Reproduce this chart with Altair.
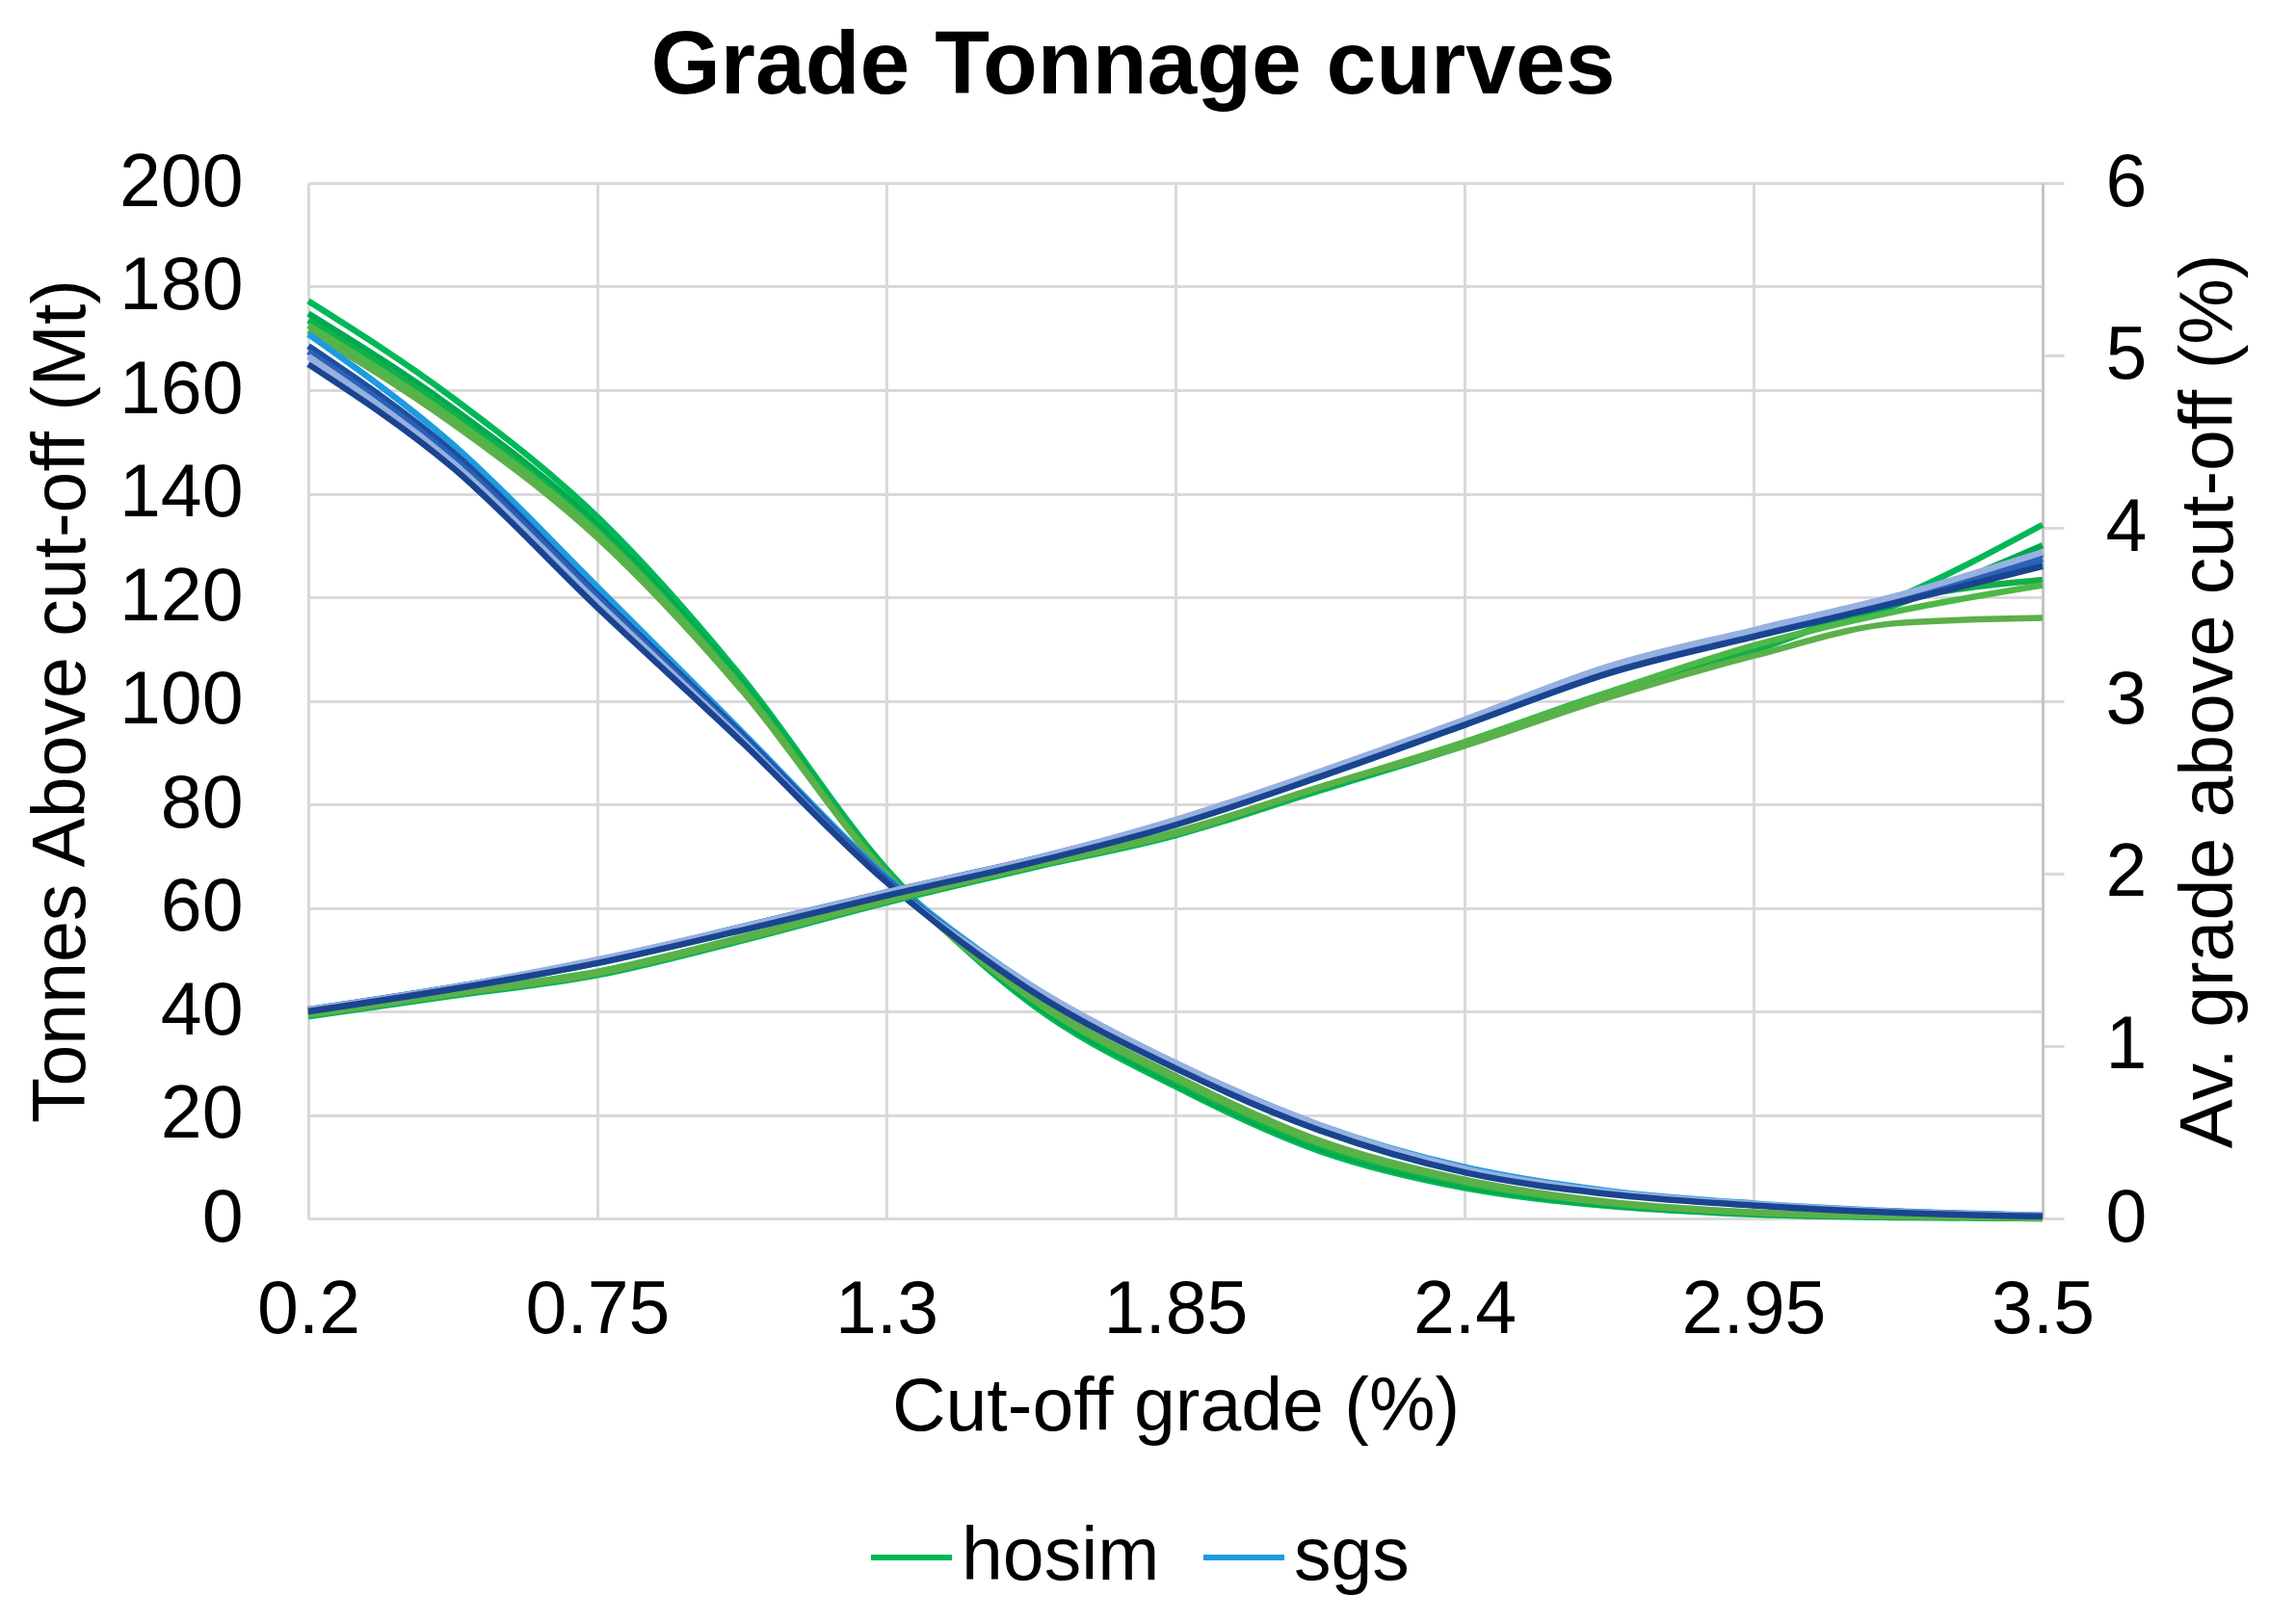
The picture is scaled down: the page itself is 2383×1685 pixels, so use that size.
import altair as alt
import pandas as pd

FONT = "Liberation Sans"

cutoff = [0.2, 0.475, 0.75, 1.025, 1.3, 1.575, 1.85, 2.125, 2.4, 2.675, 2.95, 3.225, 3.5]
x_ticks = [0.2, 0.75, 1.3, 1.85, 2.4, 2.95, 3.5]
left_ticks = [0, 20, 40, 60, 80, 100, 120, 140, 160, 180, 200]
right_ticks = [0, 1, 2, 3, 4, 5, 6]

series_names = ["hosim", "hosim 2", "hosim 3", "hosim 4", "hosim 5",
                "sgs", "sgs 2", "sgs 3", "sgs 4", "sgs 5"]
series_colors = ["#00B857", "#00A94F", "#12B04A", "#4DB848", "#5BB04A",
                 "#1E9BE0", "#1F4E9E", "#2A62B8", "#96B0E0", "#1A4490"]

# Tonnes above cut-off (Mt)
tonnes_hosim_1 = [177.2, 158.5, 135.5, 104.5, 67.5, 41.5, 25.5, 13.0, 5.9, 2.4, 0.8, 0.2, 0.0]
tonnes_hosim_2 = [174.8, 156.5, 134.0, 103.5, 67.0, 42.0, 26.0, 13.5, 6.3, 2.6, 0.9, 0.3, 0.0]
tonnes_hosim_3 = [173.5, 155.5, 133.0, 103.0, 67.0, 42.5, 26.5, 14.0, 6.7, 2.8, 1.0, 0.3, 0.1]
tonnes_hosim_4 = [172.5, 154.5, 132.5, 102.5, 66.5, 42.5, 27.0, 14.5, 7.1, 3.0, 1.1, 0.4, 0.1]
tonnes_hosim_5 = [171.5, 153.5, 131.5, 102.0, 66.5, 43.0, 27.5, 15.0, 7.5, 3.2, 1.2, 0.4, 0.1]
tonnes_sgs_1 = [170.8, 149.5, 122.0, 94.0, 66.0, 45.0, 30.0, 18.0, 9.9, 5.3, 2.9, 1.4, 0.6]
tonnes_sgs_2 = [168.5, 148.0, 120.5, 93.5, 65.5, 44.5, 29.5, 17.5, 9.3, 5.0, 2.7, 1.3, 0.5]
tonnes_sgs_3 = [167.5, 147.0, 120.0, 93.0, 65.5, 44.5, 29.5, 17.5, 9.1, 4.9, 2.6, 1.2, 0.5]
tonnes_sgs_4 = [166.5, 146.0, 119.0, 92.5, 65.0, 45.0, 30.0, 18.0, 9.6, 5.1, 2.8, 1.3, 0.6]
tonnes_sgs_5 = [165.0, 145.0, 118.0, 92.0, 65.0, 44.0, 29.0, 17.0, 8.9, 4.7, 2.5, 1.1, 0.4]

# Average grade above cut-off (%)
grade_hosim_1 = [1.17, 1.29, 1.41, 1.61, 1.83, 2.03, 2.22, 2.48, 2.74, 3.03, 3.30, 3.60, 4.02]
grade_hosim_2 = [1.18, 1.30, 1.42, 1.62, 1.84, 2.04, 2.23, 2.49, 2.75, 3.04, 3.31, 3.56, 3.90]
grade_hosim_3 = [1.18, 1.30, 1.42, 1.62, 1.84, 2.04, 2.23, 2.49, 2.76, 3.05, 3.29, 3.58, 3.70]
grade_hosim_4 = [1.19, 1.31, 1.43, 1.63, 1.85, 2.05, 2.24, 2.50, 2.76, 3.05, 3.32, 3.52, 3.67]
grade_hosim_5 = [1.18, 1.30, 1.42, 1.62, 1.84, 2.04, 2.23, 2.50, 2.74, 3.02, 3.26, 3.45, 3.48]
grade_sgs_1 = [1.21, 1.34, 1.49, 1.68, 1.88, 2.07, 2.29, 2.56, 2.86, 3.16, 3.38, 3.58, 3.80]
grade_sgs_2 = [1.21, 1.34, 1.49, 1.69, 1.89, 2.08, 2.30, 2.58, 2.88, 3.18, 3.40, 3.60, 3.85]
grade_sgs_3 = [1.20, 1.33, 1.48, 1.68, 1.88, 2.07, 2.29, 2.57, 2.87, 3.17, 3.39, 3.59, 3.82]
grade_sgs_4 = [1.21, 1.34, 1.50, 1.69, 1.89, 2.08, 2.31, 2.59, 2.89, 3.20, 3.41, 3.61, 3.86]
grade_sgs_5 = [1.20, 1.33, 1.48, 1.67, 1.87, 2.06, 2.28, 2.56, 2.86, 3.16, 3.37, 3.57, 3.78]

tonnes_all = [tonnes_hosim_1, tonnes_hosim_2, tonnes_hosim_3, tonnes_hosim_4, tonnes_hosim_5,
              tonnes_sgs_1, tonnes_sgs_2, tonnes_sgs_3, tonnes_sgs_4, tonnes_sgs_5]
grade_all = [grade_hosim_1, grade_hosim_2, grade_hosim_3, grade_hosim_4, grade_hosim_5,
             grade_sgs_1, grade_sgs_2, grade_sgs_3, grade_sgs_4, grade_sgs_5]

rows = []
for k, name in enumerate(series_names):
    for i, c in enumerate(cutoff):
        rows.append({"series": name, "cutoff": c,
                     "tonnes": tonnes_all[k][i], "grade": grade_all[k][i]})
df = pd.DataFrame(rows)

GRID = "#d9d9d9"

x_enc = alt.X(
    "cutoff:Q",
    scale=alt.Scale(domain=[0.2, 3.5], nice=False, zero=False),
    axis=alt.Axis(values=x_ticks, format=".3~g", title="Cut-off grade (%)",
                  grid=True, gridColor=GRID, gridWidth=3, labelFlush=False,
                  domainColor=GRID, domainWidth=3, ticks=False, tickSize=0,
                  labelFontSize=77, labelPadding=57, labelColor="black",
                  titleFontSize=77, titleFontWeight="normal", titleColor="black",
                  titlePadding=25, labelFont=FONT, titleFont=FONT),
)

color_enc = alt.Color(
    "series:N",
    scale=alt.Scale(domain=series_names, range=series_colors),
    legend=alt.Legend(values=["hosim", "sgs"], title=None, orient="none",
                      legendX=581, legendY=1382, direction="horizontal",
                      symbolType="stroke", symbolSize=7056, symbolStrokeWidth=6,
                      labelFontSize=77, labelFont=FONT, labelColor="black",
                      labelOffset=7, columnPadding=33, labelLimit=0),
)

tonnes_layer = alt.Chart(df).mark_line(strokeWidth=6.5, interpolate="monotone").encode(
    x=x_enc,
    y=alt.Y("tonnes:Q",
            scale=alt.Scale(domain=[0, 200], nice=False),
            axis=alt.Axis(values=left_ticks, title="Tonnes Above cut-off (Mt)",
                          grid=True, gridColor=GRID, gridWidth=3, labelFlush=False,
                          domainColor=GRID, domainWidth=3, ticks=False, tickSize=0,
                          labelFontSize=77, labelPadding=68, labelColor="black",
                          titleFontSize=77, titleFontWeight="normal", titleColor="black",
                          titlePadding=20, labelFont=FONT, titleFont=FONT)),
    color=color_enc,
)

grade_layer = alt.Chart(df).mark_line(strokeWidth=6.5, interpolate="monotone").encode(
    x=x_enc,
    y=alt.Y("grade:Q",
            scale=alt.Scale(domain=[0, 6], nice=False),
            axis=alt.Axis(orient="right", values=right_ticks,
                          title="Av. grade above cut-off (%)",
                          grid=False, domainColor="#c4c4c4", domainWidth=3, labelFlush=False,
                          ticks=True, tickSize=22, tickColor=GRID, tickWidth=3,
                          labelFontSize=77, labelPadding=43, labelColor="black",
                          titleFontSize=77, titleFontWeight="normal", titleColor="black",
                          titleAngle=270, titleBaseline="top",
                          titlePadding=28, labelFont=FONT, titleFont=FONT)),
    color=color_enc,
)

chart = (
    alt.layer(tonnes_layer, grade_layer)
    .resolve_scale(y="independent")
    .properties(
        width=1800,
        height=1075,
        title=alt.TitleParams("Grade Tonnage curves", fontSize=93, font=FONT,
                              fontWeight="bold", color="black", anchor="middle",
                              baseline="alphabetic", offset=50, dy=89, dx=-44),
        autosize=alt.AutoSizeParams(type="none"),
        padding={"left": 312, "top": 182, "right": 255, "bottom": 412},
    )
    .configure(font=FONT)
    .configure_view(stroke="transparent")
)

chart.save("out.html", embed_options={"renderer": "svg", "actions": False})
